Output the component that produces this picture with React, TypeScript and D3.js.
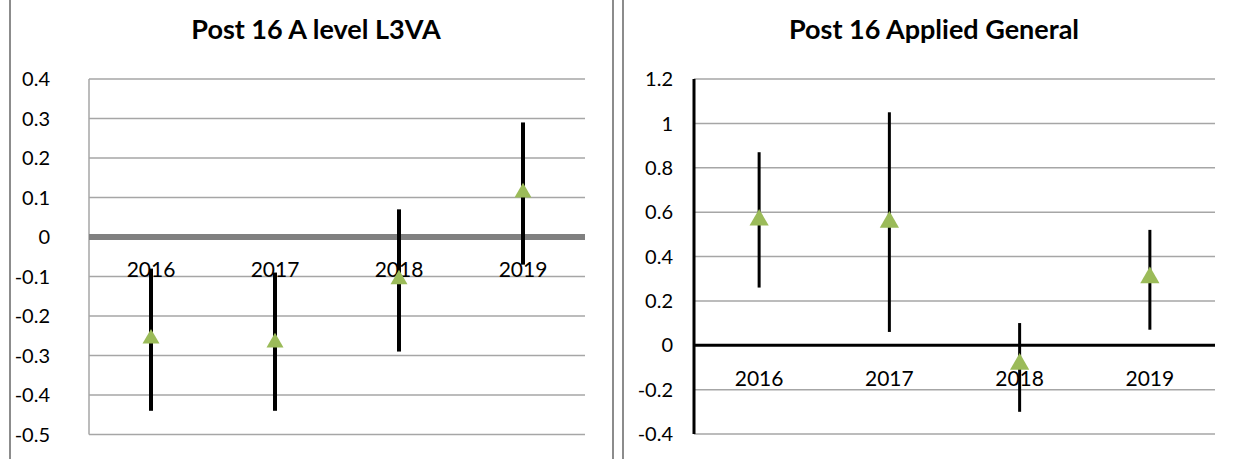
import * as d3 from 'd3';

const YEARS = ['2016', '2017', '2018', '2019'];

// Post 16 A level L3VA
const L3VA_VALUE = [-0.26, -0.27, -0.11, 0.11];
const L3VA_LOW = [-0.44, -0.44, -0.29, -0.07];
const L3VA_HIGH = [-0.08, -0.09, 0.07, 0.29];
const L3VA_TICKS = [0.4, 0.3, 0.2, 0.1, 0, -0.1, -0.2, -0.3, -0.4, -0.5];

// Post 16 Applied General
const AG_VALUE = [0.56, 0.55, -0.09, 0.30];
const AG_LOW = [0.26, 0.06, -0.30, 0.07];
const AG_HIGH = [0.87, 1.05, 0.10, 0.52];
const AG_TICKS = [1.2, 1, 0.8, 0.6, 0.4, 0.2, 0, -0.2, -0.4];

const FONT = 'Lato, "Open Sans", sans-serif';
const GREEN = '#9bbb59';
const GRID = '#a6a6a6';

type PanelProps = {
  title: string;
  titleX: number;
  x0: number;
  x1: number;
  y0: number;
  y1: number;
  domain: [number, number];
  ticks: number[];
  values: number[];
  low: number[];
  high: number[];
  variant: 'l3va' | 'ag';
};

function Panel(p: PanelProps) {
  const x = d3.scaleBand<string>().domain(YEARS).range([p.x0, p.x1]);
  const y = d3.scaleLinear().domain(p.domain).range([p.y1, p.y0]);
  const isAg = p.variant === 'ag';
  const tri = d3.symbol().type(d3.symbolTriangle).size(isAg ? 160 : 125)() as string;
  const fmt = (t: number) => (t === 0 ? '0' : String(t));
  const labelY = isAg ? y(0) + 41 : y(0) + 40;

  return (
    <g>
      <text x={p.titleX} y={39} textAnchor="middle" fontFamily={FONT} fontWeight="bold" fontSize={27} fill="#000">
        {p.title}
      </text>
      {p.ticks.map(t => (
        <g key={t}>
          {t !== 0 && (
            <line x1={p.x0} x2={p.x1} y1={y(t)} y2={y(t)} stroke={GRID} strokeWidth={1.5} />
          )}
          <text x={p.x0 - (isAg ? 21 : 39)} y={y(t)} dy="0.36em" textAnchor="end" fontFamily={FONT} fontSize={20} fill="#000">
            {fmt(t)}
          </text>
        </g>
      ))}
      {isAg ? (
        <>
          <line x1={p.x0} x2={p.x1} y1={y(0)} y2={y(0)} stroke="#000" strokeWidth={3} />
          <line x1={p.x0} x2={p.x0} y1={y(p.domain[1])} y2={y(p.domain[0])} stroke="#000" strokeWidth={3} />
        </>
      ) : (
        <>
          <line x1={p.x0} x2={p.x0} y1={y(p.domain[1])} y2={y(p.domain[0])} stroke={GRID} strokeWidth={1.5} />
          <line x1={p.x0} x2={p.x1} y1={y(0)} y2={y(0)} stroke="#808080" strokeWidth={6} />
        </>
      )}
      {YEARS.map(yr => (
        <text key={yr} x={(x(yr) ?? 0) + x.bandwidth() / 2} y={labelY} textAnchor="middle" fontFamily={FONT} fontSize={21} fill="#000">
          {yr}
        </text>
      ))}
      {YEARS.map((yr, i) => {
        const cx = (x(yr) ?? 0) + x.bandwidth() / 2;
        return (
          <line key={yr} x1={cx} x2={cx} y1={y(p.high[i])} y2={y(p.low[i])} stroke="#000" strokeWidth={isAg ? 3 : 4} />
        );
      })}
      {YEARS.map((yr, i) => {
        const cx = (x(yr) ?? 0) + x.bandwidth() / 2;
        return <path key={yr} d={tri} transform={`translate(${cx},${y(p.values[i]) - 1})`} fill={GREEN} />;
      })}
    </g>
  );
}

export default function App() {
  return (
    <svg
      width={1239}
      height={459}
      style={{ position: 'absolute', left: 0, top: 0, background: '#fff' }}
    >
      <rect width={1239} height={459} fill="#fff" />
      <line x1={10} x2={10} y1={0} y2={459} stroke="#8c8c8c" strokeWidth={2} />
      <line x1={613} x2={613} y1={0} y2={459} stroke="#8c8c8c" strokeWidth={2} />
      <line x1={623} x2={623} y1={0} y2={459} stroke="#8c8c8c" strokeWidth={2} />
      <Panel
        title="Post 16 A level L3VA"
        titleX={316}
        x0={89}
        x1={585}
        y0={79}
        y1={434.5}
        domain={[-0.5, 0.4]}
        ticks={L3VA_TICKS}
        values={L3VA_VALUE}
        low={L3VA_LOW}
        high={L3VA_HIGH}
        variant="l3va"
      />
      <Panel
        title="Post 16 Applied General"
        titleX={934}
        x0={694}
        x1={1215}
        y0={79}
        y1={434}
        domain={[-0.4, 1.2]}
        ticks={AG_TICKS}
        values={AG_VALUE}
        low={AG_LOW}
        high={AG_HIGH}
        variant="ag"
      />
    </svg>
  );
}
